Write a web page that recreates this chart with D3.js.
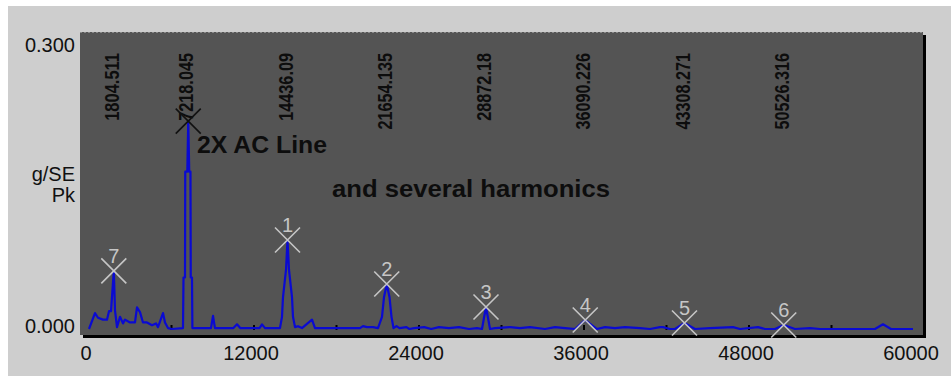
<!DOCTYPE html>
<html>
<head>
<meta charset="utf-8">
<script src="https://cdn.jsdelivr.net/npm/d3@7"></script>
<style>
  body { margin: 0; background: #fff; }
  svg { display: block; }
</style>
</head>
<body>
<svg id="chart" width="951" height="376"></svg>
<script>
// spectrum values: [frequency, g/SE pk]
const TRACE = [
  [0, 0.000], [436, 0.017], [655, 0.012], [1018, 0.010], [1309, 0.010],
  [1455, 0.019], [1600, 0.019], [1805, 0.062], [1891, 0.020], [2036, 0.002],
  [2255, 0.013], [2473, 0.006], [2618, 0.010], [2982, 0.007], [3345, 0.007],
  [3491, 0.023], [3709, 0.018], [3927, 0.007], [4218, 0.007], [4582, 0.004],
  [4873, 0.006], [5018, 0.002], [5382, 0.017], [5527, 0.007], [5745, 0.001],
  [6036, 0.000], [6836, 0.001], [6873, 0.055], [6982, 0.055], [7000, 0.168],
  [7150, 0.168], [7218, 0.222], [7290, 0.168], [7380, 0.168], [7400, 0.055],
  [7490, 0.055], [7520, 0.001], [8870, 0.001], [9020, 0.014], [9160, 0.001],
  [10500, 0.001], [10764, 0.005], [11000, 0.001], [12400, 0.001], [12582, 0.005],
  [12800, 0.001], [13890, 0.001], [14036, 0.013], [14109, 0.034], [14327, 0.063],
  [14436, 0.095], [14545, 0.063], [14764, 0.034], [14836, 0.013], [14982, 0.002],
  [15200, 0.003], [15490, 0.001], [16218, 0.010], [16436, 0.001], [19709, 0.001],
  [19927, 0.003], [20218, 0.002], [20655, 0.002], [21018, 0.001], [21309, 0.013],
  [21455, 0.034], [21654, 0.048], [21855, 0.034], [22000, 0.013], [22145, 0.001],
  [22364, 0.003], [22582, 0.001], [23091, 0.002], [23300, 0.000], [23650, 0.001],
  [24380, 0.002], [24890, 0.000], [25450, 0.002], [26180, 0.001], [26910, 0.002],
  [27640, 0.000], [28220, 0.001], [28582, 0.000], [28727, 0.012], [28872, 0.0235],
  [29018, 0.012], [29164, 0.000], [29527, 0.001], [30618, 0.002], [31345, 0.001],
  [32070, 0.002], [33160, 0.000], [33890, 0.002], [34620, 0.001], [35345, 0.000],
  [36090, 0.0096], [36945, 0.000], [37530, 0.002], [38250, 0.001], [38980, 0.002],
  [40070, 0.001], [40800, 0.000], [41527, 0.002], [41745, 0.002], [42250, 0.000],
  [42618, 0.000], [43308, 0.0064], [44073, 0.000], [45164, 0.001], [46836, 0.002],
  [47350, 0.000], [48655, 0.002], [49160, 0.000], [49891, 0.000], [50526, 0.0043],
  [51345, 0.000], [52436, 0.001], [53160, 0.000], [57164, 0.000], [57745, 0.005],
  [58327, 0.000], [59927, 0.000]
];

const X_TICKS = [0, 12000, 24000, 36000, 48000, 60000];
const X_MINOR = [6000, 12000, 18000, 24000, 30000, 36000, 42000, 48000, 54000];
const Y_TICKS = [0, 0.3];

const PEAK_FREQS = [1804.511, 7218.045, 14436.09, 21654.135, 28872.18, 36090.226, 43308.271, 50526.316];
const PEAK_LABELS = ["1804.511", "7218.045", "14436.09", "21654.135", "28872.18", "36090.226", "43308.271", "50526.316"];

// harmonic cursors
const CURSOR_NAMES = ["7", "", "1", "2", "3", "4", "5", "6"];
const CURSOR_AMPS = [0.062, 0.222, 0.095, 0.048, 0.0235, 0.0096, 0.0064, 0.0043];

const svg = d3.select("#chart");
const W = 951, H = 376;
const plot = { left: 80, top: 32, right: 923, bottom: 335 };

const x = d3.scaleLinear().domain([0, 60000]).range([89, 914]);
const y = d3.scaleLinear().domain([0, 0.3]).range([329, 48]);

// panel
svg.append("rect").attr("x", 8).attr("y", 6).attr("width", W - 8).attr("height", H - 6).attr("fill", "#cecece");

// plot shadow + body
svg.append("rect")
  .attr("x", plot.left + 3).attr("y", plot.top + 3)
  .attr("width", plot.right - plot.left).attr("height", plot.bottom - plot.top)
  .attr("fill", "#000");
svg.append("rect")
  .attr("x", plot.left).attr("y", plot.top)
  .attr("width", plot.right - plot.left).attr("height", plot.bottom - plot.top)
  .attr("fill", "#545454");
svg.append("line")
  .attr("x1", plot.left).attr("x2", plot.right).attr("y1", plot.top + 0.5).attr("y2", plot.top + 0.5)
  .attr("stroke", "#8a8a8a").attr("stroke-dasharray", "2,2");

// minor ticks on the baseline
svg.append("g")
  .selectAll("line")
  .data(X_MINOR)
  .join("line")
  .attr("x1", (d) => x(d)).attr("x2", (d) => x(d))
  .attr("y1", y(0) - 4).attr("y2", y(0) + 1)
  .attr("stroke", "#000").attr("stroke-width", 2);

// vertical peak frequency labels
svg.append("g")
  .selectAll("text")
  .data(PEAK_FREQS)
  .join("text")
  .attr("transform", (d) => "translate(" + (x(d) - 2.5) + ",53) rotate(-90)")
  .attr("text-anchor", "end")
  .attr("dy", "0.36em")
  .attr("font-family", "Liberation Sans, Arial, sans-serif")
  .attr("font-size", 21)
  .attr("font-weight", "bold")
  .attr("fill", "#0d0d0d")
  .attr("textLength", (d, i) => PEAK_LABELS[i].length * 8.6 - 1)
  .attr("lengthAdjust", "spacingAndGlyphs")
  .text((d, i) => PEAK_LABELS[i]);

// trace
const line = d3.line().x((d) => x(d[0])).y((d) => y(d[1]));
svg.append("path")
  .datum(TRACE)
  .attr("d", line)
  .attr("fill", "none")
  .attr("stroke", "#0a0ad2")
  .attr("stroke-width", 2.2)
  .attr("stroke-linejoin", "round");

// cursor crosses
const cursors = svg.append("g");
PEAK_FREQS.forEach((f, i) => {
  const cx = x(f), cy = y(CURSOR_AMPS[i]);
  const col = CURSOR_NAMES[i] === "" ? "#111" : "#c6c6c6";
  const r = 12.5;
  cursors.append("path")
    .attr("d", `M${cx - r},${cy - r}L${cx + r},${cy + r}M${cx - r},${cy + r}L${cx + r},${cy - r}`)
    .attr("stroke", col).attr("stroke-width", 1.6).attr("fill", "none");
  if (CURSOR_NAMES[i] !== "") {
    cursors.append("text")
      .attr("x", cx).attr("y", cy - 8)
      .attr("text-anchor", "middle")
      .attr("font-family", "Liberation Sans, Arial, sans-serif")
      .attr("font-size", 20)
      .attr("fill", "#c6c6c6")
      .text(CURSOR_NAMES[i]);
  }
});

// annotations
svg.append("text")
  .attr("x", 197).attr("y", 153)
  .attr("font-family", "Liberation Sans, Arial, sans-serif")
  .attr("font-size", 23).attr("font-weight", "bold").attr("fill", "#0d0d0d")
  .attr("textLength", 130).attr("lengthAdjust", "spacingAndGlyphs")
  .text("2X AC Line");
svg.append("text")
  .attr("x", 332).attr("y", 197)
  .attr("font-family", "Liberation Sans, Arial, sans-serif")
  .attr("font-size", 23).attr("font-weight", "bold").attr("fill", "#0d0d0d")
  .attr("textLength", 278).attr("lengthAdjust", "spacingAndGlyphs")
  .text("and several harmonics");

// y axis labels
svg.append("g")
  .selectAll("text")
  .data(Y_TICKS)
  .join("text")
  .attr("x", 75).attr("y", (d) => y(d) - 3.5)
  .attr("dy", "0.35em")
  .attr("text-anchor", "end")
  .attr("font-family", "Liberation Sans, Arial, sans-serif")
  .attr("font-size", 20).attr("fill", "#111")
  .text((d) => d3.format(".3f")(d));

svg.append("text")
  .attr("x", 75).attr("y", 181).attr("text-anchor", "end")
  .attr("font-family", "Liberation Sans, Arial, sans-serif")
  .attr("font-size", 20).attr("fill", "#111")
  .text("g/SE");
svg.append("text")
  .attr("x", 75).attr("y", 202).attr("text-anchor", "end")
  .attr("font-family", "Liberation Sans, Arial, sans-serif")
  .attr("font-size", 20).attr("fill", "#111")
  .text("Pk");

// x axis labels
svg.append("g")
  .selectAll("text")
  .data(X_TICKS)
  .join("text")
  .attr("x", (d) => x(d) - 3).attr("y", 360)
  .attr("text-anchor", "middle")
  .attr("font-family", "Liberation Sans, Arial, sans-serif")
  .attr("font-size", 20).attr("fill", "#111")
  .text((d) => d);
</script>
</body>
</html>
